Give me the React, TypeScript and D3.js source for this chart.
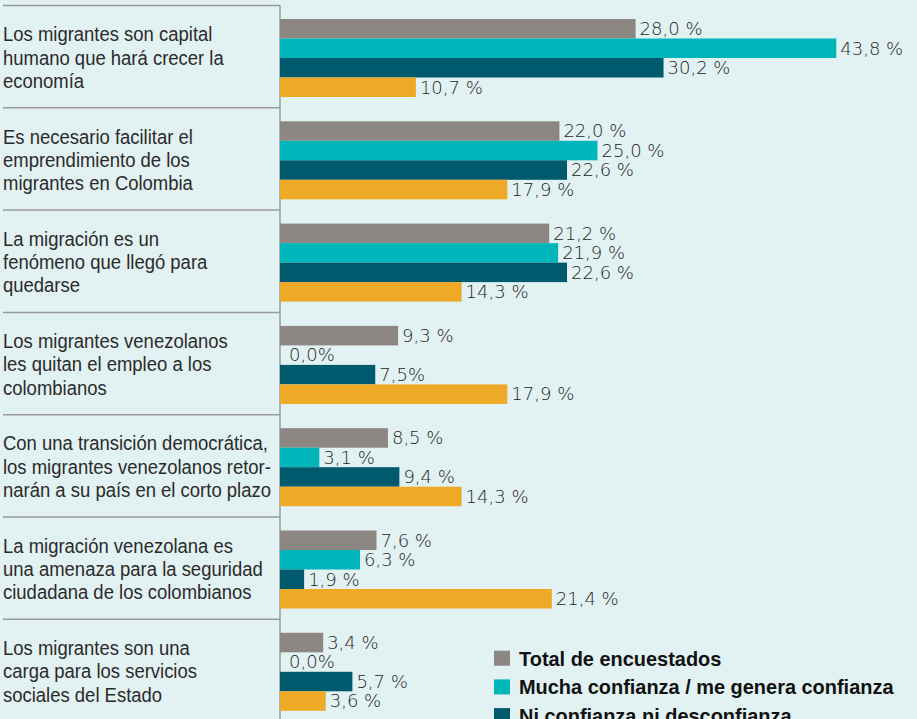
import React from "react";
import * as d3 from "d3";

const categories: string[][] = [
  ["Los migrantes son capital", "humano que hará crecer la", "economía"],
  ["Es necesario facilitar el", "emprendimiento de los", "migrantes en Colombia"],
  ["La migración es un", "fenómeno que llegó para", "quedarse"],
  ["Los migrantes venezolanos", "les quitan el empleo a los", "colombianos"],
  ["Con una transición democrática,", "los migrantes venezolanos retor-", "narán a su país en el corto plazo"],
  ["La migración venezolana es", "una amenaza para la seguridad", "ciudadana de los colombianos"],
  ["Los migrantes son una", "carga para los servicios", "sociales del Estado"],
];

const seriesNames = [
  "Total de encuestados",
  "Mucha confianza / me genera confianza",
  "Ni confianza ni desconfianza",
  "Desconfianza / no me genera confianza",
];
const seriesColors = ["#8c8782", "#00b6ba", "#005a6d", "#eea927"];

const totalValues = [28.0, 22.0, 21.2, 9.3, 8.5, 7.6, 3.4];
const muchaValues = [43.8, 25.0, 21.9, 0.0, 3.1, 6.3, 0.0];
const niValues = [30.2, 22.6, 22.6, 7.5, 9.4, 1.9, 5.7];
const descValues = [10.7, 17.9, 14.3, 17.9, 14.3, 21.4, 3.6];

const totalLabels = ["28,0 %", "22,0 %", "21,2 %", "9,3 %", "8,5 %", "7,6 %", "3,4 %"];
const muchaLabels = ["43,8 %", "25,0 %", "21,9 %", "0,0%", "3,1 %", "6,3 %", "0,0%"];
const niLabels = ["30,2 %", "22,6 %", "22,6 %", "7,5%", "9,4 %", "1,9 %", "5,7 %"];
const descLabels = ["10,7 %", "17,9 %", "14,3 %", "17,9 %", "14,3 %", "21,4 %", "3,6 %"];

const W = 917;
const H = 719;

export default function App() {
  const seriesValues = [totalValues, muchaValues, niValues, descValues];
  const seriesLabels = [totalLabels, muchaLabels, niLabels, descLabels];
  const idx = categories.map((_, i) => String(i));

  const x = d3.scaleLinear().domain([0, 50]).range([280, 915]);
  const step = 102.3;
  const pInner = 24.3 / step;
  const pOuter = 14 / step;
  const y0 = 5;
  const y = d3
    .scaleBand<string>()
    .domain(idx)
    .range([y0, y0 + step * (idx.length - pInner + 2 * pOuter)])
    .paddingInner(pInner)
    .paddingOuter(pOuter);
  const ys = d3
    .scaleBand<string>()
    .domain(seriesNames)
    .range([0, y.bandwidth()]);

  const catFont = "'Liberation Sans', Arial, sans-serif";
  const valFont = "'DejaVu Sans', sans-serif";

  return (
    <svg
      width={W}
      height={H}
      style={{ position: "fixed", left: 0, top: 0, display: "block" }}
    >
      <rect x={0} y={0} width={W} height={H} fill="#e2f1f1" />
      {idx.map((d) => (
        <line
          key={"sep" + d}
          x1={3}
          x2={x(0)}
          y1={(y(d) as number) - 13.5}
          y2={(y(d) as number) - 13.5}
          stroke="#9a9a9a"
          strokeWidth={1.5}
        />
      ))}
      <line x1={x(0)} x2={x(0)} y1={y0} y2={H} stroke="#9a9a9a" strokeWidth={1.5} />
      {idx.map((d, i) => {
        const cy = (y(d) as number) + y.bandwidth() / 2 + 6.5;
        return (
          <g key={"cat" + d} transform={`translate(3,${cy}) scale(0.88,1)`}>
            <text fontFamily={catFont} fontSize={21} fill="#2b2b2b">
              {categories[i].map((ln, j) => (
                <tspan key={j} x={0} y={(j - 1) * 23.3}>
                  {ln}
                </tspan>
              ))}
            </text>
          </g>
        );
      })}
      {idx.map((d, i) => (
        <g key={"g" + d} transform={`translate(0,${y(d)})`}>
          {seriesNames.map((s, k) => {
            const v = seriesValues[k][i];
            const by = ys(s) as number;
            const bh = ys.bandwidth();
            const lx = v === 0 ? x(0) + 9 : x(v) + 4;
            return (
              <g key={s}>
                {v > 0 && (
                  <rect x={x(0)} y={by} width={x(v) - x(0)} height={bh} fill={seriesColors[k]} />
                )}
                <text
                  x={lx}
                  y={by + bh / 2 + 6.3}
                  fontFamily={valFont}
                  fontWeight={300}
                  fontSize={18}
                  fill="#1e1e1e"
                >
                  {seriesLabels[k][i]}
                </text>
              </g>
            );
          })}
        </g>
      ))}
      {seriesNames.map((s, k) => {
        const ly = 650.7 + k * 28.7;
        return (
          <g key={"leg" + s}>
            <rect x={494} y={ly} width={16} height={15} fill={seriesColors[k]} />
            <g transform={`translate(519,${ly + 15}) scale(0.95,1)`}>
              <text fontFamily={catFont} fontWeight={700} fontSize={21} fill="#111">
                {s}
              </text>
            </g>
          </g>
        );
      })}
    </svg>
  );
}
